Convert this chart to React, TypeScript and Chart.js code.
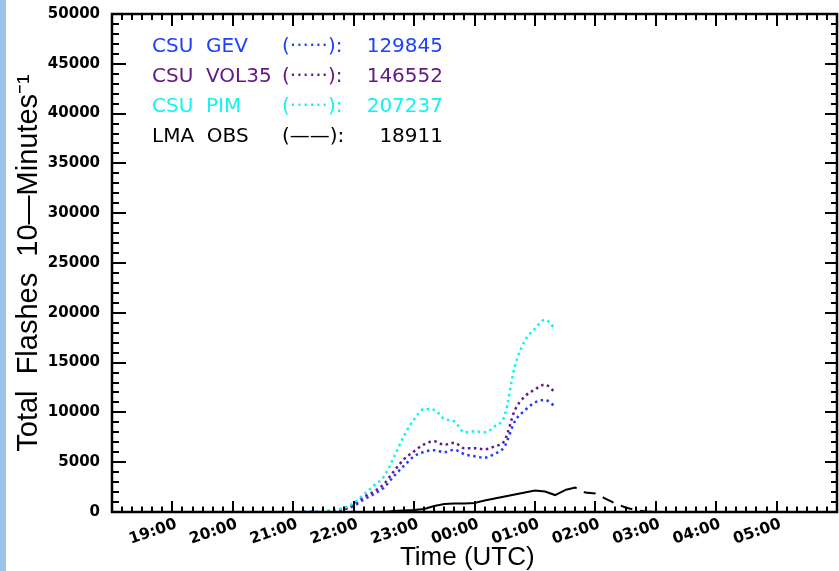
import React, { useEffect, useRef } from 'react';
import { Chart, registerables } from 'chart.js';

Chart.register(...registerables);

// ---- data ----
const START_HOUR = 18; // x axis starts at 18:00 UTC
const SPAN_MIN = 720; // ends at 06:00 UTC next day

const SAMPLE_TIMES = [
  '21:10', '21:20', '21:30', '21:40', '21:50', '22:00',
  '22:10', '22:20', '22:30', '22:40', '22:50', '23:00',
  '23:10', '23:20', '23:30', '23:40', '23:50', '00:00',
  '00:10', '00:20', '00:30', '00:40', '00:50', '01:00',
  '01:10', '01:20',
];
const CSU_GEV = [
  0, 0, 0, 100, 250, 600,
  1250, 1800, 2450, 3600, 4650, 5600,
  6050, 6200, 6000, 6250, 5800, 5600,
  5450, 5850, 6600, 9100, 10200, 11000,
  11250, 10600,
];
const CSU_VOL35 = [
  0, 0, 0, 100, 300, 700,
  1500, 2050, 2800, 4100, 5300, 6100,
  6800, 7100, 6750, 6950, 6400, 6400,
  6300, 6600, 7200, 10200, 11600, 12300,
  12800, 12000,
];
const CSU_PIM = [
  0, 0, 100, 200, 400, 900,
  1750, 2640, 3550, 5500, 7650, 9300,
  10330, 10250, 9340, 9100, 8000, 8100,
  8000, 8600, 9700, 14600, 17200, 18400,
  19300, 18400,
];

const LMA_TIMES = [
  '22:30', '22:40', '22:50', '23:00', '23:10', '23:20',
  '23:30', '23:40', '23:50', '00:00', '00:10', '00:20',
  '00:30', '00:40', '00:50', '01:00', '01:10', '01:20',
  '01:30', '01:40', '01:50', '02:00', '02:10', '02:20',
  '02:30', '02:40', '02:50', '03:00',
];
const LMA_OBS = [
  0, 100, 150, 200, 300, 600,
  800, 850, 850, 900, 1150, 1350,
  1550, 1750, 1950, 2150, 2050, 1700,
  2200, 2450, 1950, 1850, 1350, 850,
  450, 200, 50, 0,
];
const LMA_DASHED_FROM = '01:30';

const X_TICK_LABELS = ['19:00', '20:00', '21:00', '22:00', '23:00', '00:00', '01:00', '02:00', '03:00', '04:00', '05:00'];
const Y_MAX = 50000;
const Y_STEP = 5000;

const LEGEND_NAMES = ['CSU  GEV', 'CSU  VOL35', 'CSU  PIM', 'LMA  OBS'];
const LEGEND_SAMPLES = ['(······):', '(······):', '(······):', '(——):'];
const LEGEND_TOTALS = ['129845', '146552', '207237', '18911'];

const BLUE = '#2040ff';
const PURPLE = '#621a84';
const CYAN = '#12f2f2';
const BLACK = '#000000';
const LEGEND_COLORS = [BLUE, PURPLE, CYAN, BLACK];

function toMin(hhmm: string): number {
  const [h, m] = hhmm.split(':').map(Number);
  return ((h - START_HOUR + 24) % 24) * 60 + m;
}

function pts(times: string[], vals: number[]) {
  return times.map((t, i) => ({ x: toMin(t), y: vals[i] }));
}

function zeroPad(s: any) {
  s.paddingLeft = 0;
  s.paddingRight = 0;
  s.paddingTop = 0;
  s.paddingBottom = 0;
}

const framePlugin = {
  id: 'idlFrame',
  afterDraw(chart: any) {
    const { ctx, chartArea: a, scales } = chart;
    const xs = scales.x;
    const ys = scales.y;
    ctx.save();
    ctx.strokeStyle = '#000';
    ctx.lineWidth = 2;
    ctx.lineCap = 'butt';
    const seg = (x1: number, y1: number, x2: number, y2: number) => {
      ctx.beginPath();
      ctx.moveTo(x1, y1);
      ctx.lineTo(x2, y2);
      ctx.stroke();
    };
    for (let m = 0; m <= SPAN_MIN; m += 10) {
      const px = Math.round(xs.getPixelForValue(m));
      const major = m % 60 === 0;
      seg(px, a.bottom, px, a.bottom - (major ? 11 : 5.5));
      seg(px, a.top, px, a.top + (major ? 12 : 6));
    }
    for (let v = 0; v <= Y_MAX; v += 1000) {
      const py = Math.round(ys.getPixelForValue(v));
      const major = v % Y_STEP === 0;
      seg(a.left, py, a.left + (major ? 14 : 7), py);
      seg(a.right, py, a.right - (major ? 12 : 6), py);
    }
    ctx.lineWidth = 2.5;
    ctx.strokeRect(a.left, a.top, a.right - a.left, a.bottom - a.top);

    // legend text block
    ctx.font = '20px "DejaVu Sans"';
    ctx.textBaseline = 'alphabetic';
    for (let i = 0; i < LEGEND_NAMES.length; i++) {
      const by = a.top + 38 + i * 30;
      ctx.fillStyle = LEGEND_COLORS[i];
      ctx.textAlign = 'left';
      ctx.fillText(LEGEND_NAMES[i], a.left + 40, by);
      ctx.fillText(LEGEND_SAMPLES[i], a.left + 170, by);
      ctx.textAlign = 'right';
      ctx.fillText(LEGEND_TOTALS[i], a.left + 331, by);
    }
    ctx.restore();
  },
};

export default function App() {
  const ref = useRef<HTMLCanvasElement | null>(null);

  useEffect(() => {
    if (!ref.current) return;
    const dashFrom = toMin(LMA_DASHED_FROM);
    const dotted = {
      borderWidth: 2.5,
      borderDash: [2.5, 3.5],
      borderCapStyle: 'butt' as const,
      pointRadius: 0,
      cubicInterpolationMode: 'monotone' as const,
      fill: false,
    };
    const chart = new Chart(ref.current, {
      type: 'line',
      data: {
        datasets: [
          {
            label: 'LMA OBS',
            data: pts(LMA_TIMES, LMA_OBS),
            borderColor: BLACK,
            borderWidth: 2,
            pointRadius: 0,
            tension: 0,
            segment: {
              borderDash: (c: any) => (c.p0.parsed.x >= dashFrom ? [12, 8] : undefined),
            },
          },
          { label: 'CSU PIM', data: pts(SAMPLE_TIMES, CSU_PIM), borderColor: CYAN, ...dotted },
          { label: 'CSU VOL35', data: pts(SAMPLE_TIMES, CSU_VOL35), borderColor: PURPLE, ...dotted },
          { label: 'CSU GEV', data: pts(SAMPLE_TIMES, CSU_GEV), borderColor: BLUE, ...dotted },
        ],
      },
      options: {
        animation: false,
        responsive: false,
        devicePixelRatio: 1,
        layout: { padding: { left: 0, right: 2, top: 14, bottom: 0 } },
        plugins: {
          legend: { display: false },
          tooltip: { enabled: false },
        },
        scales: {
          x: {
            type: 'linear',
            min: 0,
            max: SPAN_MIN,
            afterFit: (s: any) => {
              s.height = 59;
              zeroPad(s);
            },
            grid: { display: false, drawTicks: false },
            border: { display: false },
            ticks: {
              stepSize: 60,
              autoSkip: false,
              minRotation: 19,
              maxRotation: 19,
              padding: 3,
              labelOffset: 4,
              color: '#000',
              font: { family: '"DejaVu Sans"', size: 15.5, weight: 'bold' },
              callback: (v: any) => {
                const h = (START_HOUR + Number(v) / 60) % 24;
                const lab = String(h).padStart(2, '0') + ':00';
                return X_TICK_LABELS.includes(lab) ? lab : '';
              },
            },
            title: {
              display: true,
              text: 'Time (UTC)  ',
              color: '#000',
              font: { family: '"Liberation Sans"', size: 26 },
              padding: { top: 0, bottom: -2 },
            },
          },
          y: {
            type: 'linear',
            min: 0,
            max: Y_MAX,
            afterFit: (s: any) => {
              s.width = 112;
              zeroPad(s);
            },
            grid: { display: false, drawTicks: false },
            border: { display: false },
            ticks: {
              stepSize: Y_STEP,
              padding: 12,
              color: '#000',
              font: { family: '"DejaVu Sans"', size: 15, weight: 'bold' },
              callback: (v: any) => String(v),
            },
            title: {
              display: true,
              text: 'Total  Flashes  10—Minutes⁻¹',
              color: '#000',
              font: { family: '"Liberation Sans"', size: 29 },
              padding: { top: 12, bottom: 0 },
            },
          },
        },
      },
      plugins: [framePlugin],
    } as any);
    return () => chart.destroy();
  }, []);

  return (
    <div style={{ position: 'absolute', left: 0, top: 0, width: 839, height: 571, background: '#fff', overflow: 'hidden' }}>
      <canvas ref={ref} width={839} height={571} style={{ display: 'block', position: 'absolute', left: 0, top: 0 }} />
      <div style={{ position: 'absolute', left: 0, top: 0, width: 6, height: 571, background: '#9dc3e9' }} />
    </div>
  );
}
